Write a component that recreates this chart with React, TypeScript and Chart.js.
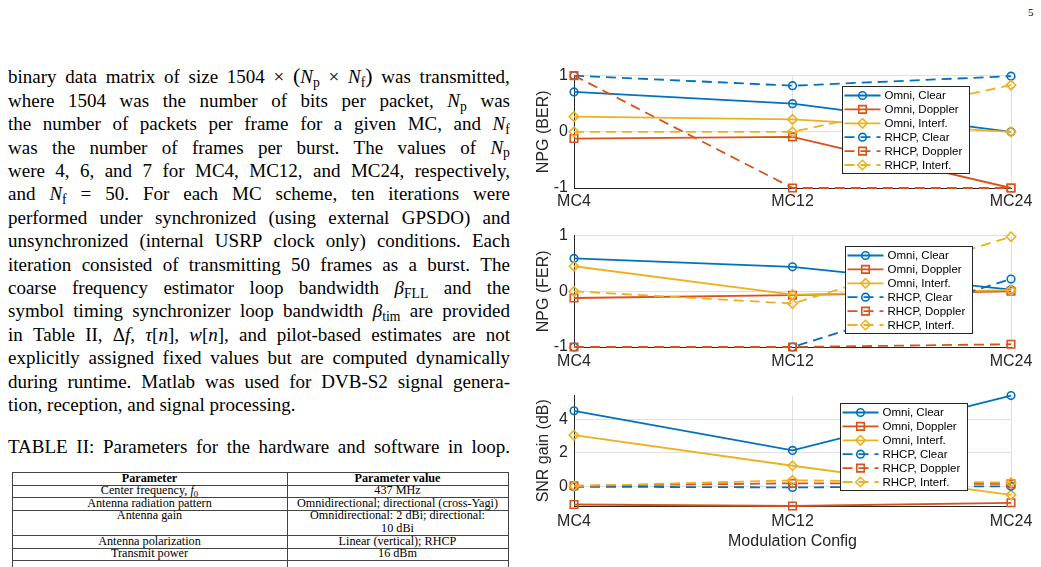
import React, { useEffect, useRef } from "react";
import { Chart, registerables } from "chart.js";

Chart.register(...registerables);

// ---------- data ----------
const categories = ["MC4", "MC12", "MC24"];
const seriesLabels = [
  "Omni, Clear",
  "Omni, Doppler",
  "Omni, Interf.",
  "RHCP, Clear",
  "RHCP, Doppler",
  "RHCP, Interf.",
];

// NPG (BER)
const berOmniClear = [0.71, 0.5, 0.0];
const berOmniDoppler = [-0.12, -0.09, -1.0];
const berOmniInterf = [0.27, 0.22, 0.0];
const berRhcpClear = [1.0, 0.82, 0.99];
const berRhcpDoppler = [1.0, -1.0, -1.0];
const berRhcpInterf = [0.0, 0.0, 0.83];

// NPG (FER)
const ferOmniClear = [0.59, 0.44, 0.03];
const ferOmniDoppler = [-0.12, -0.07, 0.0];
const ferOmniInterf = [0.45, -0.06, 0.02];
const ferRhcpClear = [-1.0, -1.0, 0.22];
const ferRhcpDoppler = [-1.0, -1.0, -0.95];
const ferRhcpInterf = [0.0, -0.22, 0.98];

// SNR gain (dB)
const snrOmniClear = [4.49, 2.15, 5.39];
const snrOmniDoppler = [-1.05, -1.14, -0.95];
const snrOmniInterf = [3.05, 1.24, -0.48];
const snrRhcpClear = [0.0, -0.04, 0.03];
const snrRhcpDoppler = [0.06, 0.2, 0.17];
const snrRhcpInterf = [0.04, 0.38, 0.25];

const npgTicks = [-1, 0, 1];
const snrTicks = [0, 2, 4];
const npgRange = [-1, 1];
const snrRange = [-1.14, 5.39];

// ---------- styles ----------
const seriesColors = ["#0072BD", "#D95319", "#EDB120"];
const markerStyles = ["circle", "rect", "rectRot"];
const markerRadii = [3.8, 5.3, 4.7];
const AXIS_COLOR = "#262626";
const GRID_COLOR = "#dfdfdf";
const SANS = '"Liberation Sans", Arial, Helvetica, sans-serif';

function drawMarker(ctx: CanvasRenderingContext2D, style: string, x: number, y: number, r: number, color: string) {
  ctx.save();
  ctx.setLineDash([]);
  ctx.strokeStyle = color;
  ctx.lineWidth = 1.6;
  ctx.beginPath();
  if (style === "circle") {
    ctx.arc(x, y, r, 0, Math.PI * 2);
  } else if (style === "rect") {
    const s = r * Math.SQRT1_2;
    ctx.rect(x - s, y - s, 2 * s, 2 * s);
  } else {
    ctx.moveTo(x - r, y);
    ctx.lineTo(x, y - r);
    ctx.lineTo(x + r, y);
    ctx.lineTo(x, y + r);
    ctx.closePath();
  }
  ctx.stroke();
  ctx.restore();
}

const boxLegendPlugin = {
  id: "boxLegend",
  afterDraw(chart: any, _args: any, o: any) {
    if (!o || o.w == null) return;
    const { ctx, chartArea } = chart;
    const x0 = Math.round(chartArea.left + o.dx) + 0.5;
    const y0 = Math.round(chartArea.top + o.dy) + 0.5;
    ctx.save();
    ctx.fillStyle = "#ffffff";
    ctx.fillRect(x0, y0, o.w, o.h);
    ctx.setLineDash([]);
    ctx.strokeStyle = AXIS_COLOR;
    ctx.lineWidth = 1;
    ctx.strokeRect(x0, y0, o.w, o.h);
    chart.data.datasets.forEach((ds: any, i: number) => {
      const cy = y0 + 9 + i * 13.9;
      ctx.save();
      ctx.strokeStyle = ds.borderColor;
      ctx.lineWidth = ds.borderWidth;
      ctx.setLineDash(ds.borderDash || []);
      ctx.beginPath();
      ctx.moveTo(x0 + 2, cy);
      ctx.lineTo(x0 + 38, cy);
      ctx.stroke();
      ctx.restore();
      drawMarker(ctx, ds.pointStyle, x0 + 20, cy, ds.pointRadius, ds.borderColor);
      ctx.fillStyle = "#000";
      ctx.font = `11.5px ${SANS}`;
      ctx.textBaseline = "middle";
      ctx.textAlign = "left";
      ctx.fillText(ds.label, x0 + 42, cy + 0.5);
    });
    ctx.restore();
  },
};

interface PanelOpts {
  series: number[][];
  range: number[];
  ticks: number[];
  yTitle: string;
  xTitle?: string;
  padTop: number;
  xHeight: number;
  xPad: number;
  legend: { dx: number; dy: number; w: number; h: number };
}

function makeConfig(p: PanelOpts): any {
  const datasets = p.series.map((data, i) => {
    const k = i % 3;
    const color = seriesColors[k];
    return {
      label: seriesLabels[i],
      data,
      borderColor: color,
      backgroundColor: color,
      borderWidth: 1.8,
      borderDash: i >= 3 ? [10, 6] : [],
      pointStyle: markerStyles[k],
      pointRadius: markerRadii[k],
      pointHoverRadius: markerRadii[k],
      pointBorderWidth: 1.6,
      pointBorderColor: color,
      pointBackgroundColor: "rgba(255,255,255,0)",
      tension: 0,
      fill: false,
      clip: false,
      order: p.series.length - i,
    };
  });
  return {
    type: "line",
    data: { labels: categories, datasets },
    options: {
      responsive: false,
      animation: false,
      devicePixelRatio: 1,
      events: [],
      layout: { padding: { left: 0, right: 30, top: p.padTop, bottom: 0 } },
      plugins: {
        legend: { display: false },
        tooltip: { enabled: false },
        boxLegend: p.legend,
      },
      scales: {
        x: {
          type: "category",
          offset: false,
          afterFit: (s: any) => {
            s.height = p.xHeight;
          },
          grid: { color: GRID_COLOR, lineWidth: 1, drawTicks: false, offset: false },
          border: { display: true, color: AXIS_COLOR, width: 1 },
          ticks: {
            color: AXIS_COLOR,
            font: { family: SANS, size: 16 },
            padding: p.xPad,
            maxRotation: 0,
            autoSkip: false,
          },
          title: {
            display: !!p.xTitle,
            text: p.xTitle || "",
            color: AXIS_COLOR,
            font: { family: SANS, size: 16 },
            padding: { top: 0, bottom: 0 },
          },
        },
        y: {
          type: "linear",
          min: p.range[0],
          max: p.range[1],
          afterBuildTicks: (s: any) => {
            s.ticks = p.ticks.map((v) => ({ value: v }));
          },
          afterFit: (s: any) => {
            s.width = 44;
          },
          grid: { color: GRID_COLOR, lineWidth: 1, drawTicks: false },
          border: { display: true, color: AXIS_COLOR, width: 1 },
          ticks: {
            color: AXIS_COLOR,
            font: { family: SANS, size: 16 },
            padding: 6,
            callback: (v: any) => String(v),
          },
          title: {
            display: true,
            text: p.yTitle,
            color: AXIS_COLOR,
            font: { family: SANS, size: 16 },
            padding: { top: 4, bottom: 0 },
          },
        },
      },
    },
    plugins: [boxLegendPlugin],
  };
}

function ChartPanel(props: { left: number; top: number; width: number; height: number; opts: PanelOpts }) {
  const ref = useRef<HTMLCanvasElement | null>(null);
  useEffect(() => {
    if (!ref.current) return;
    const chart = new Chart(ref.current, makeConfig(props.opts));
    return () => chart.destroy();
  }, []);
  return (
    <canvas
      ref={ref}
      width={props.width}
      height={props.height}
      style={{ position: "absolute", left: props.left, top: props.top, width: props.width, height: props.height }}
    />
  );
}

// ---------- text helpers ----------
const Sub = ({ c }: { c: string }) => (
  <span style={{ fontSize: "0.72em", position: "relative", top: "0.28em", fontStyle: "normal" }}>{c}</span>
);
const Np = (
  <span>
    <i>N</i>
    <Sub c="p" />
  </span>
);
const Nf = (
  <span>
    <i>N</i>
    <Sub c="f" />
  </span>
);

function words(s: string): React.ReactNode[] {
  return s.split(" ");
}

const LH = 23.4;
const bodyLines: React.ReactNode[][] = [
  [
    ...words("binary data matrix of size 1504 ×"),
    <span>
      <span style={{ fontSize: "1.15em" }}>(</span>
      <i>N</i>
      <Sub c="p" />
    </span>,
    "×",
    <span>
      <i>N</i>
      <Sub c="f" />
      <span style={{ fontSize: "1.15em" }}>)</span>
    </span>,
    ...words("was transmitted,"),
  ],
  [...words("where 1504 was the number of bits per packet,"), Np, "was"],
  [...words("the number of packets per frame for a given MC, and"), Nf],
  [...words("was the number of frames per burst. The values of"), Np],
  words("were 4, 6, and 7 for MC4, MC12, and MC24, respectively,"),
  ["and", Nf, "=", ...words("50. For each MC scheme, ten iterations were")],
  words("performed under synchronized (using external GPSDO) and"),
  words("unsynchronized (internal USRP clock only) conditions. Each"),
  words("iteration consisted of transmitting 50 frames as a burst. The"),
  [
    ...words("coarse frequency estimator loop bandwidth"),
    <span>
      <i>β</i>
      <Sub c="FLL" />
    </span>,
    ...words("and the"),
  ],
  [
    ...words("symbol timing synchronizer loop bandwidth"),
    <span>
      <i>β</i>
      <Sub c="tim" />
    </span>,
    ...words("are provided"),
  ],
  [
    ...words("in Table II,"),
    <span>
      Δ<i>f</i>,
    </span>,
    <span>
      <i>τ</i>[<i>n</i>],
    </span>,
    <span>
      <i>w</i>[<i>n</i>],
    </span>,
    ...words("and pilot-based estimates are not"),
  ],
  words("explicitly assigned fixed values but are computed dynamically"),
  words("during runtime. Matlab was used for DVB-S2 signal genera-"),
  words("tion, reception, and signal processing."),
];

function TextLine({ top, tokens, last }: { top: number; tokens: React.ReactNode[]; last?: boolean }) {
  return (
    <div
      style={{
        position: "absolute",
        left: 8,
        top,
        width: 502,
        height: LH,
        lineHeight: `${LH}px`,
        fontSize: 19,
        display: "flex",
        justifyContent: last ? "flex-start" : "space-between",
        gap: last ? "4.75px" : 0,
        whiteSpace: "nowrap",
      }}
    >
      {tokens.map((t, i) => (
        <span key={i}>{t}</span>
      ))}
    </div>
  );
}

// ---------- table ----------
const rowLines = [472, 484.5, 497, 509.5, 535, 547.5, 560];
const colLines = [12, 287, 508];
const tableCells: { y: number; l: React.ReactNode; r: React.ReactNode; bold?: boolean }[] = [
  { y: 478.3, l: "Parameter", r: "Parameter value", bold: true },
  {
    y: 490.8,
    l: (
      <span>
        Center frequency, <i>f</i>
        <Sub c="0" />
      </span>
    ),
    r: "437 MHz",
  },
  { y: 503.3, l: "Antenna radiation pattern", r: "Omnidirectional; directional (cross-Yagi)" },
  { y: 515.8, l: "Antenna gain", r: "Omnidirectional: 2 dBi; directional:" },
  { y: 528.4, l: "", r: "10 dBi" },
  { y: 541.3, l: "Antenna polarization", r: "Linear (vertical); RHCP" },
  { y: 553.8, l: "Transmit power", r: "16 dBm" },
];

function Table() {
  const cellStyle = (left: number, width: number, y: number, bold?: boolean): React.CSSProperties => ({
    position: "absolute",
    left,
    width,
    top: y - 6.5,
    height: 13,
    lineHeight: "13px",
    fontSize: 12.2,
    textAlign: "center",
    fontWeight: bold ? "bold" : "normal",
    whiteSpace: "nowrap",
  });
  return (
    <>
      {rowLines.map((y, i) => (
        <div
          key={"h" + i}
          style={{ position: "absolute", left: colLines[0], top: y, width: colLines[2] - colLines[0] + 1, height: 1, background: "#444" }}
        />
      ))}
      {colLines.map((x, i) => (
        <div
          key={"v" + i}
          style={{ position: "absolute", left: x, top: rowLines[0], width: 1, height: 567 - rowLines[0], background: "#444" }}
        />
      ))}
      {tableCells.map((c, i) => (
        <React.Fragment key={"c" + i}>
          <div style={cellStyle(colLines[0], colLines[1] - colLines[0], c.y, c.bold)}>{c.l}</div>
          <div style={cellStyle(colLines[1], colLines[2] - colLines[1], c.y, c.bold)}>{c.r}</div>
        </React.Fragment>
      ))}
    </>
  );
}

const legendBox = { w: 127, h: 87 };

export default function App() {
  return (
    <div
      style={{
        position: "fixed",
        left: 0,
        top: 0,
        width: 1041,
        height: 567,
        overflow: "hidden",
        background: "#fff",
        color: "#000",
        fontFamily: '"Liberation Serif", "Times New Roman", serif',
      }}
    >
      <div style={{ position: "absolute", left: 1028, top: 5, fontSize: 11, lineHeight: "14px" }}>5</div>

      {bodyLines.map((t, i) => (
        <TextLine key={i} top={77 - LH / 2 + i * LH} tokens={t} last={i === bodyLines.length - 1} />
      ))}

      <TextLine top={447 - LH / 2} tokens={words("TABLE II: Parameters for the hardware and software in loop.")} />

      <Table />

      <ChartPanel
        left={530}
        top={60}
        width={511}
        height={153}
        opts={{
          series: [berOmniClear, berOmniDoppler, berOmniInterf, berRhcpClear, berRhcpDoppler, berRhcpInterf],
          range: npgRange,
          ticks: npgTicks,
          yTitle: "NPG (BER)",
          padTop: 14,
          xHeight: 25,
          xPad: 4,
          legend: { dx: 268, dy: 10, ...legendBox },
        }}
      />
      <ChartPanel
        left={530}
        top={220}
        width={511}
        height={152}
        opts={{
          series: [ferOmniClear, ferOmniDoppler, ferOmniInterf, ferRhcpClear, ferRhcpDoppler, ferRhcpInterf],
          range: npgRange,
          ticks: npgTicks,
          yTitle: "NPG (FER)",
          padTop: 13,
          xHeight: 25,
          xPad: 5,
          legend: { dx: 271, dy: 10, ...legendBox },
        }}
      />
      <ChartPanel
        left={530}
        top={380}
        width={511}
        height={171}
        opts={{
          series: [snrOmniClear, snrOmniDoppler, snrOmniInterf, snrRhcpClear, snrRhcpDoppler, snrRhcpInterf],
          range: snrRange,
          ticks: snrTicks,
          yTitle: "SNR gain (dB)",
          xTitle: "Modulation Config",
          padTop: 12,
          xHeight: 45,
          xPad: 6,
          legend: { dx: 266, dy: 7, ...legendBox },
        }}
      />
    </div>
  );
}
